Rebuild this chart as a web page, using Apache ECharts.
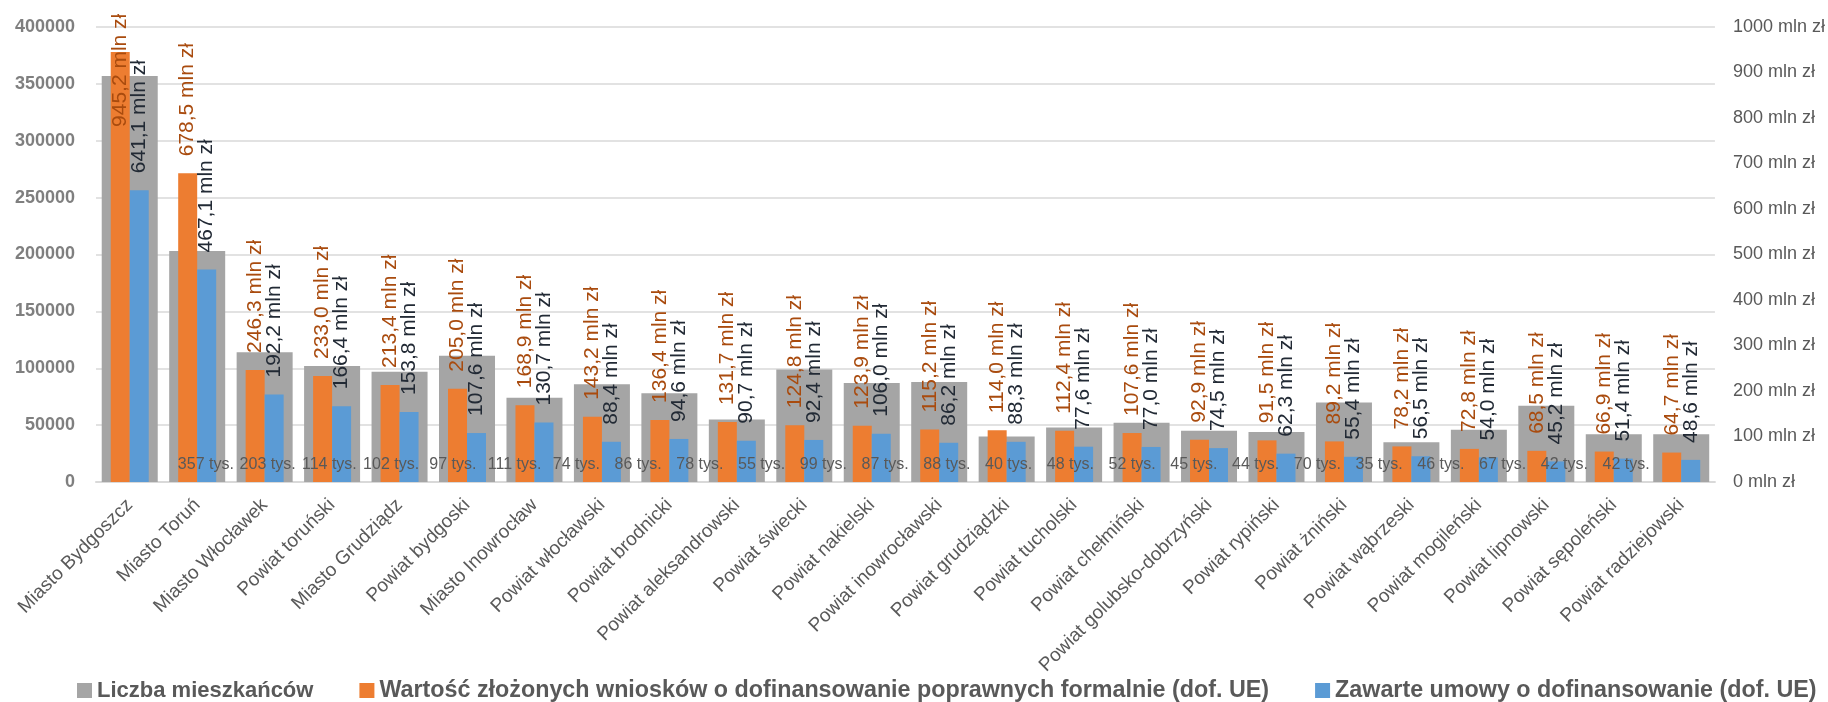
<!DOCTYPE html>
<html>
<head>
<meta charset="utf-8">
<script src="https://cdn.jsdelivr.net/npm/echarts@6/dist/echarts.min.js"></script>
<style>
  html, body { margin: 0; padding: 0; background: #fff; }
  #chart { width: 1828px; height: 702px; }
</style>
</head>
<body>
<div id="chart"></div>
<script>
const categories = [
  'Miasto Bydgoszcz', 'Miasto Toruń', 'Miasto Włocławek', 'Powiat toruński',
  'Miasto Grudziądz', 'Powiat bydgoski', 'Miasto Inowrocław', 'Powiat włocławski',
  'Powiat brodnicki', 'Powiat aleksandrowski', 'Powiat świecki', 'Powiat nakielski',
  'Powiat inowrocławski', 'Powiat grudziądzki', 'Powiat tucholski', 'Powiat chełmiński',
  'Powiat golubsko-dobrzyński', 'Powiat rypiński', 'Powiat żniński', 'Powiat wąbrzeski',
  'Powiat mogileński', 'Powiat lipnowski', 'Powiat sępoleński', 'Powiat radziejowski'
]
// liczba mieszkańców
const population = [
  357000, 203000, 114000, 102000, 97000, 111000, 74000, 86000,
  78000, 55000, 99000, 87000, 88000, 40000, 48000, 52000,
  45000, 44000, 70000, 35000, 46000, 67000, 42000, 42000
]
// mln zł
const applied = [
  945.2, 678.5, 246.3, 233.0, 213.4, 205.0, 168.9, 143.2,
  136.4, 131.7, 124.8, 123.9, 115.2, 114.0, 112.4, 107.6,
  92.9, 91.5, 89.2, 78.2, 72.8, 68.5, 66.9, 64.7
]
const contracts = [
  641.1, 467.1, 192.2, 166.4, 153.8, 107.6, 130.7, 88.4,
  94.6, 90.7, 92.4, 106.0, 86.2, 88.3, 77.6, 77.0,
  74.5, 62.3, 55.4, 56.5, 54.0, 45.2, 51.4, 48.6
]
const seriesNames = [
  'Liczba mieszkańców',
  'Wartość złożonych wniosków o dofinansowanie poprawnych formalnie (dof. UE)',
  'Zawarte umowy o dofinansowanie (dof. UE)'
]

const FONT = '"Liberation Sans", Arial, sans-serif'
const mln = v => v.toFixed(1).replace('.', ',') + ' mln zł'

const chart = echarts.init(document.getElementById('chart'))

const valueLabel = color => ({
  show: true,
  position: 'top',
  distance: 17,
  rotate: 90,
  align: 'left',
  verticalAlign: 'middle',
  fontSize: 21,
  fontFamily: FONT,
  color: color,
  formatter: p => mln(p.value)
})

chart.setOption({
  animation: false,
  textStyle: { fontFamily: FONT },
  grid: [
    { left: 96, right: 107, top: 27, bottom: 220 },
    // the "tys." labels sit on their own, tighter spacing
    { left: 175, right: 171, top: 27, bottom: 220 }
  ],
  legend: {
    data: [
      { name: seriesNames[0], textStyle: { fontSize: 22 } },
      { name: seriesNames[1] },
      { name: seriesNames[2] }
    ],
    left: 72,
    top: 674,
    icon: 'rect',
    itemWidth: 15,
    itemHeight: 15,
    itemGap: 46,
    textStyle: { fontSize: 23.3, fontWeight: 'bold', color: '#595959', fontFamily: FONT }
  },
  xAxis: [
    {
      type: 'category',
      gridIndex: 0,
      data: categories,
      axisTick: { show: false },
      axisLine: { lineStyle: { color: '#d9d9d9', width: 2 } },
      axisLabel: { interval: 0, rotate: 45, fontSize: 19, color: '#595959', margin: 20 }
    },
    { type: 'category', gridIndex: 0, data: categories, show: false },
    { type: 'category', gridIndex: 1, data: categories, show: false }
  ],
  yAxis: [
    {
      type: 'value',
      gridIndex: 0,
      min: 0,
      max: 400000,
      interval: 50000,
      axisLine: { show: false },
      axisTick: { show: false },
      axisLabel: { fontSize: 18, fontWeight: 'bold', color: '#7f7f7f', margin: 21, formatter: v => String(v) },
      splitLine: { lineStyle: { color: '#d9d9d9', width: 1.5 } }
    },
    {
      type: 'value',
      gridIndex: 0,
      position: 'right',
      min: 0,
      max: 1000,
      interval: 100,
      axisLine: { show: false },
      axisTick: { show: false },
      splitLine: { show: false },
      axisLabel: { formatter: v => v + ' mln zł', fontSize: 18, color: '#595959', margin: 18 }
    },
    { type: 'value', gridIndex: 1, min: 0, max: 400000, show: false }
  ],
  series: [
    {
      name: seriesNames[0],
      type: 'bar',
      xAxisIndex: 0,
      yAxisIndex: 0,
      barWidth: 56,
      itemStyle: { color: '#A5A5A5' },
      data: population
    },
    {
      name: seriesNames[1],
      type: 'bar',
      xAxisIndex: 1,
      yAxisIndex: 1,
      barWidth: 19,
      barGap: '0%',
      itemStyle: { color: '#ED7D31' },
      label: valueLabel('#A94B0E'),
      // first label would run off the top, pull it down into the bar
      data: applied.map((v, i) => i === 0 ? { value: v, label: { position: 'insideTop', distance: 75 } } : v)
    },
    {
      name: seriesNames[2],
      type: 'bar',
      xAxisIndex: 1,
      yAxisIndex: 1,
      barWidth: 19,
      barGap: '0%',
      itemStyle: { color: '#5B9BD5' },
      label: valueLabel('#222A35'),
      data: contracts
    },
    {
      name: 'tys',
      type: 'bar',
      xAxisIndex: 2,
      yAxisIndex: 2,
      z: 5,
      silent: true,
      itemStyle: { color: 'rgba(0,0,0,0)' },
      label: {
        show: true,
        position: 'insideBottom',
        distance: 9,
        fontSize: 16,
        color: '#595959',
        formatter: p => Math.round(p.value / 1000) + ' tys.'
      },
      data: population
    }
  ]
})
</script>
</body>
</html>
